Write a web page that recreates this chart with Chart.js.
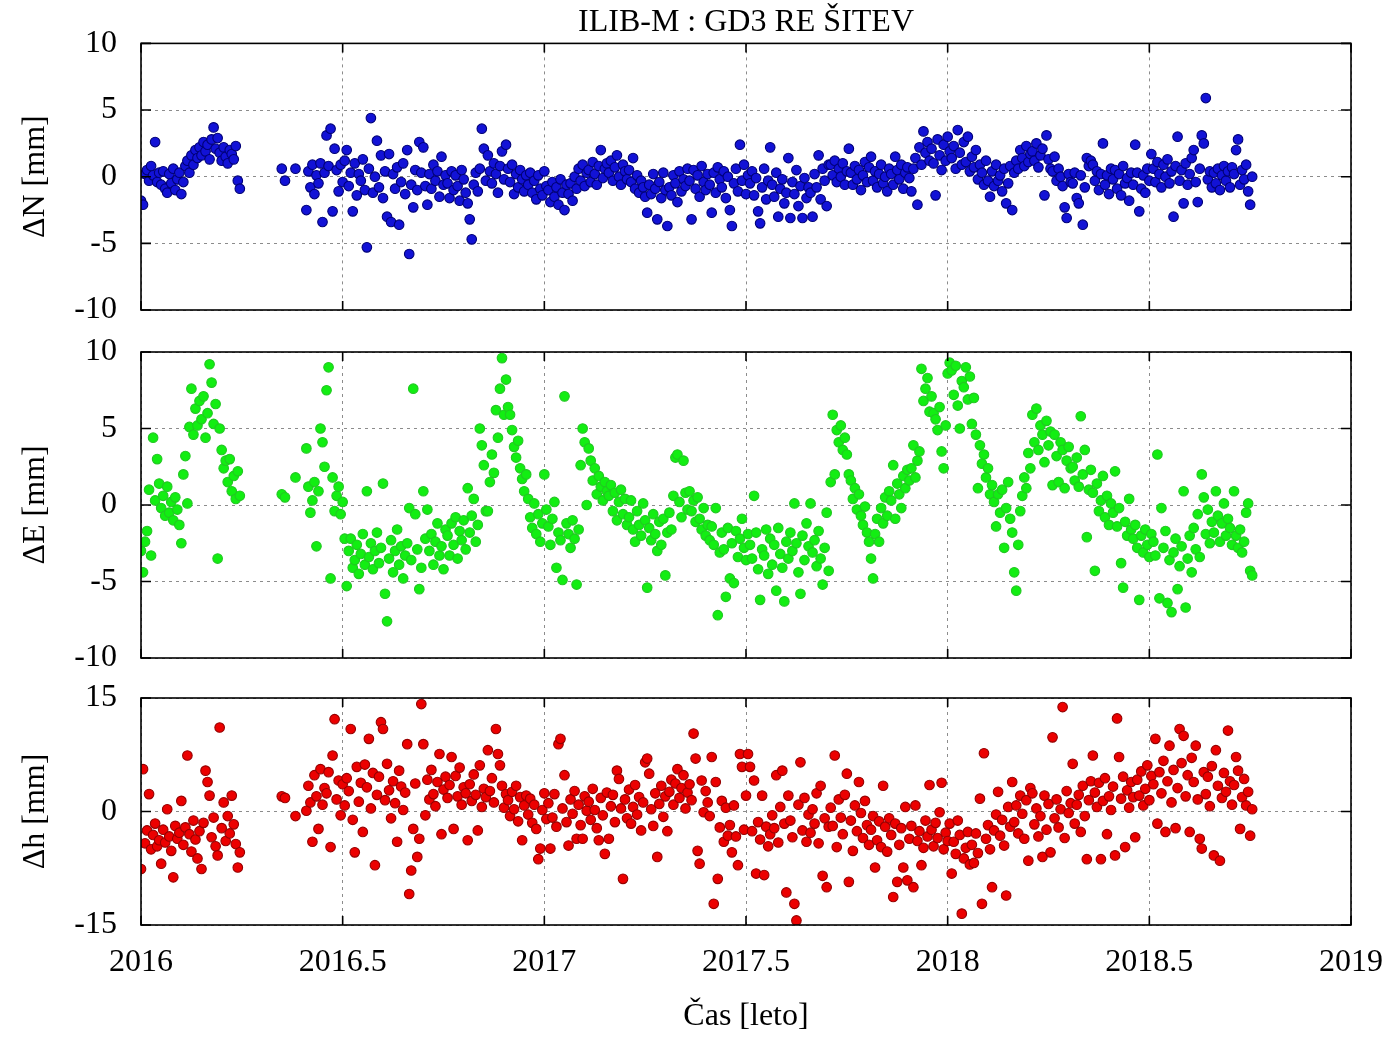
<!DOCTYPE html>
<html>
<head>
<meta charset="utf-8">
<title>ILIB-M : GD3 RE ŠITEV</title>
<script src="https://cdn.jsdelivr.net/npm/chart.js@4.4.1/dist/chart.umd.min.js"></script>
<style>
  html, body { margin: 0; padding: 0; background: #fff; }
  #wrap { position: relative; width: 1400px; height: 1038px; }
  canvas { position: absolute; left: 0; }
</style>
</head>
<body>
<div id="wrap">
  <canvas id="panelN" width="1400" height="330" style="top:0px"></canvas>
  <canvas id="panelE" width="1400" height="348" style="top:330px"></canvas>
  <canvas id="panelH" width="1400" height="360" style="top:678px"></canvas>
</div>
<script>
const SERIF = '"Liberation Serif", "Times New Roman", serif';

// epochs of the daily solutions (decimal year), in three blocks
const blockA = { from: 2016.000, count: 50 };   // start of 2016, before the gap
const blockB = [2016.349, 2016.357, 2016.383];  // few solutions inside the gap
const blockC = { from: 2016.410, count: 470 };  // rest of the series
const step = 0.005;

const xTicks = [2016, 2016.5, 2017, 2017.5, 2018, 2018.5, 2019];
const nTicks = [-10, -5, 0, 5, 10];
const eTicks = [-10, -5, 0, 5, 10];
const hTicks = [-15, 0, 15];

// North residuals [mm]
const dN = [
  -1.8, -2.1, 0.2, 0.5, -0.3, 0.8, 0.1, 2.6, -0.4, 0.3,
  -0.6, 0.4, -0.9, -1.2, 0.2, -0.5, 0.6, -1.0, -0.2, 0.3,
  -1.3, -0.4, 0.8, 1.2, 0.3, 1.6, 0.9, 2.0, 1.4, 2.2,
  1.6, 2.6, 1.9, 2.4, 1.3, 2.8, 3.7, 2.1, 2.9, 1.8,
  1.2, 2.2, 1.5, 1.0, 2.0, 1.7, 1.3, 2.3, -0.3, -0.9,
  0.6, -0.3, 0.6,
  -2.5, 0.4, -0.8, 0.9, -1.3, 0.1, -0.5, 1.0, -3.4, 0.3,
  3.1, 0.8, 3.6, -2.6, 2.1, 0.5, -1.1, 0.9, -0.4, 1.2,
  2.0, -0.7, 0.3, -2.6, 1.0, -1.4, 0.2, -0.3, 1.3, -1.0,
  -5.3, 0.6, 4.4, -1.2, 0.0, 2.7, -0.8, 1.6, -1.6, 0.4,
  -3.0, 1.7, -3.4, 0.2, -0.9, 0.7, -3.6, -0.4, 1.0, -1.3,
  2.0, -5.8, -0.6, -2.3, 0.5, -1.0, 2.6, 0.3, 2.2, -0.7,
  -2.1, 0.2, -0.9, 0.9, -0.3, 0.4, -1.5, 1.5, -0.6, 0.1,
  -0.5, -1.6, 0.4, -1.0, 0.1, -0.7, -1.8, 0.5, -0.2, -1.2,
  -2.0, -3.2, -4.7, -0.6, 0.3, -1.1, 0.6, 3.6, 2.1, -0.3,
  1.6, 0.4, -0.5, 1.0, 0.2, -1.2, 0.8, 1.9, -0.2, 2.4,
  0.6, -0.4, 0.9, -1.3, 0.2, -0.8, 0.5, -0.2, -1.1, 0.1,
  -0.6, 0.3, -1.2, -0.3, -1.7, 0.1, -0.9, -1.4, 0.4, -0.7,
  -1.0, -1.9, -0.4, -1.5, -0.8, -2.1, -0.2, -1.2, -2.5, -0.6,
  -1.3, -0.5, -1.8, 0.0, -0.9, 0.6, -0.3, 0.9, -0.7, 0.3,
  0.5, -0.4, 1.1, 0.2, -0.6, 0.8, 2.0, -0.1, 0.6, 1.0,
  0.3, 1.2, -0.3, 0.7, 1.6, 0.0, -0.6, 0.9, 0.4, -0.2,
  0.5, -0.4, 1.4, -0.9, 0.1, -1.2, -0.3, -0.8, -1.5, -2.7,
  -0.6, -1.3, 0.2, -0.9, -3.2, -0.4, -1.6, 0.3, -1.0, -3.7,
  -0.8, -1.4, 0.1, -0.5, -1.9, 0.4, -1.1, -0.2, -0.7, 0.6,
  -0.3, -3.2, 0.5, -0.9, 0.1, -1.5, 0.8, -0.4, -1.0, 0.2,
  -0.6, -2.7, 0.3, -1.2, 0.7, -0.2, -0.8, 0.4, -1.6, 0.0,
  -2.5, -3.7, -0.5, 0.6, -1.1, 2.4, -0.3, 0.9, -1.3, 0.1,
  -0.5, 0.4, -1.4, -0.1, -2.6, -3.5, -0.8, 0.6, -1.7, -0.3,
  2.2, -0.6, -1.5, 0.3, -3.0, -0.9, -0.2, -2.0, -1.2, 1.4,
  -3.1, -0.4, -1.3, 0.5, -2.2, -0.7, -3.1, -0.1, -1.6, -0.8,
  -1.2, -3.0, 0.2, -0.8, 1.6, -1.7, 0.6, -0.3, -2.2, 0.9,
  0.9, 0.1, 1.2, -0.4, 0.6, 0.0, 1.0, -0.6, 0.4, 2.1,
  0.3, -0.6, 0.8, -0.2, 0.5, -1.0, 0.1, 1.1, -0.4, 0.7,
  1.5, -0.3, 0.4, -0.8, 0.2, 0.9, -0.5, 0.0, -1.1, 0.6,
  0.2, -0.6, 1.5, 0.5, -0.2, 0.9, -0.9, 0.3, 0.7, -0.1,
  -1.1, 0.6, 1.4, -2.1, 2.2, 0.9, 3.4, 1.8, 2.6, 1.2,
  2.1, 1.0, -1.4, 2.8, 1.6, 0.5, 2.4, 1.2, 3.0, 1.9,
  1.4, 2.3, 0.6, 3.5, 1.8, 0.9, 2.6, 1.1, 3.0, 0.4,
  1.5, 0.7, 2.0, -0.2, 0.9, 0.3, -0.6, 1.2, -0.3, -1.5,
  0.4, -0.7, 0.9, -0.3, 0.1, -1.1, 0.6, -2.0, -0.5, 0.8,
  -2.5, 0.3, 1.2, 0.6, 2.0, 1.4, 0.8, 2.3, 1.1, 1.7,
  1.9, 1.2, 2.5, 0.7, 1.6, 2.1, -1.4, 3.1, 1.3, 0.6,
  0.4, 1.5, -0.3, 0.6, 0.0, -0.7, -2.3, -3.1, 0.2, -0.4,
  -0.5, 0.3, -1.6, -2.0, 0.1, -3.6, -0.8, 1.4, 0.8, 1.2,
  0.9, -0.3, 0.4, -1.0, 0.2, 2.5, -0.6, 0.1, -1.3, 0.6,
  -0.2, 0.5, -0.9, 0.2, -1.4, 0.8, -0.5, -0.1, -1.8, 0.3,
  -0.6, 2.4, 0.3, -2.6, -0.9, 0.1, -1.2, 0.6, -0.3, 1.7,
  0.6, -0.4, 1.1, 0.2, -0.8, 0.9, 0.0, 1.3, -0.5, 0.4,
  -3.0, 0.8, 3.0, -0.3, 0.5, -2.0, 1.0, -0.6, 0.2, 1.4,
  2.0, -0.4, -1.9, 0.6, 3.1, 2.5, 5.9, -0.2, 0.4, -0.8,
  0.3, -0.5, 0.6, -1.0, 0.1, 0.8, -0.3, 0.4, -0.8, 0.7,
  0.2, 2.0, 2.8, -0.6, 0.5, -0.2, 0.9, -1.1, -2.1, 0.0
];

// East residuals [mm]
const dE = [
  -3.0, -4.4, -2.4, -1.7, 1.0, -3.3, 4.4, 0.3, 3.0, 1.4,
  -0.2, 0.6, -0.7, 1.2, -0.5, 0.2, -1.0, 0.5, -0.3, -1.3,
  -2.5, 2.0, 3.2, 0.1, 5.1, 7.6, 4.6, 6.3, 5.2, 6.8,
  5.6, 7.1, 4.4, 6.0, 9.2, 8.0, 5.3, 6.6, -3.5, 5.0,
  3.6, 2.4, 2.9, 1.5, 3.0, 0.9, 1.9, 0.4, 2.2, 0.6,
  0.7, 0.5, 1.8,
  3.7, 1.2, -0.5, 0.3, 1.5, -2.7, 0.9, 5.0, 4.1, 2.5,
  7.5, 9.0, -4.8, 1.8, -0.4, 0.6, 1.2, -0.6, 0.2, -2.2,
  -5.3, -3.0, -2.2, -4.1, -3.6, -2.6, -4.5, -3.2, -1.9, -3.9,
  0.9, -3.4, -2.5, -4.2, -3.0, -1.8, -3.8, -2.8, 1.4, -5.8,
  -7.6, -3.5, -2.3, -4.4, -3.0, -1.6, -3.9, -2.7, -4.8, -3.3,
  -2.5, -0.2, -3.6, 7.6, -0.6, -2.9, -5.5, -4.1, 0.9, -2.2,
  -0.3, -3.0, -1.9, -3.9, -2.4, -1.2, -3.3, -2.7, -4.2, -1.6,
  -2.0, -3.3, -1.2, -2.6, -0.8, -3.5, -1.7, -2.3, -1.0, -2.9,
  1.1, -1.8, -0.7, 0.4, -2.4, -1.3, 5.0, 3.9, 2.6, -0.4,
  -0.4, 1.5, 3.3, 2.1, 6.2, 4.4, 7.6, 9.6, 5.9, 8.2,
  6.4, 5.9, 4.9, 3.8, 3.1, 4.2, 2.4, 1.7, 0.9, 2.0,
  0.4, -0.8, -1.5, 0.1, -1.9, -0.6, -2.4, -1.2, 2.0, -0.3,
  -1.4, -2.6, -0.9, 0.2, -4.1, -1.8, -2.3, -4.9, 7.1, -1.2,
  -1.9, -2.8, -1.0, -2.2, -5.2, -1.6, 2.6, 5.0, 4.1, 0.0,
  3.7, 2.9, 1.6, 2.4, 0.7, 1.9, 1.2, 0.3, 1.5, 0.9,
  0.6, 1.3, -0.4, 0.8, -1.0, 0.2, 1.0, -0.6, 0.4, -1.3,
  -0.8, 0.3, -1.6, -2.4, -0.4, -1.3, -2.0, 0.1, -1.0, -5.4,
  -1.5, -2.3, -0.6, -1.9, -3.0, -1.1, -2.6, -0.9, -4.6, -1.8,
  -0.5, -1.6, 0.6, 3.1, 3.3, 0.2, -0.8, 2.9, 0.8, -0.3,
  0.9, -0.4, 0.3, -1.1, 0.5, -0.9, -1.6, -0.2, -2.0, -1.3,
  -2.3, -1.4, -2.6, -0.2, -7.2, -3.1, -1.8, -2.9, -6.0, -1.5,
  -4.8, -2.5, -5.1, -1.7, -3.4, -2.2, -0.9, -2.8, -3.6, -1.9,
  -2.6, -3.5, 0.6, -1.8, -4.2, -6.2, -2.9, -3.3, -1.6, -4.5,
  -2.2, -3.9, -2.6, -5.6, -1.5, -3.2, -4.1, -6.3, -2.4, -3.5,
  -1.8, -3.0, 0.1, -2.5, -4.4, -5.8, -2.0, -3.6, -1.2, -2.7,
  0.1, -3.1, -2.3, -4.0, -1.7, -3.5, -5.2, -2.8, -0.5, -4.3,
  1.5, 5.9, 2.0, 4.9, 4.1, 5.2, 3.6, 4.4, 3.3, 2.0,
  1.6, 0.4, 1.1, -0.3, 0.7, -0.7, -1.3, -0.1, -1.8, -2.4,
  -3.5, -4.8, -1.9, -0.9, -2.4, -0.2, -1.2, 0.5, -0.7, 0.9,
  0.3, 2.6, -0.9, 1.4, 0.7, -0.2, 1.9, 1.1, 2.3, 1.6,
  2.4, 3.9, 1.8, 2.9, 3.5, 8.9, 6.8, 7.6, 8.3, 6.1,
  7.1, 6.0, 5.6, 4.9, 6.4, 3.5, 2.4, 5.2, 8.6, 9.3,
  8.8, 7.2, 9.1, 6.5, 5.0, 8.1, 7.7, 9.0, 6.9, 8.4,
  5.3, 7.0, 4.6, 1.1, 3.9, 2.7, 3.3, 1.8, 2.4, 0.7,
  1.3, 0.2, -1.4, 0.7, -0.5, 1.0, -2.8, -0.2, 1.5, -0.9,
  -1.8, -4.4, -5.6, -2.6, -0.4, 0.6, 1.8, 1.1, 3.4, 2.4,
  5.9, 4.1, 6.3, 3.6, 5.2, 4.6, 2.8, 5.5, 3.9, 4.8,
  1.3, 4.6, 3.2, 1.5, 4.1, 3.6, 1.1, 2.9, 3.8, 2.4,
  2.5, 1.6, 3.1, 1.2, 5.8, 2.0, 3.6, -2.1, 1.0, 2.3,
  0.8, -4.3, 1.4, -0.4, 0.3, 1.9, -0.8, 0.6, -1.3, 0.1,
  -0.5, 2.2, -1.4, -0.2, -3.8, -5.4, -1.1, -2.0, 0.4, -1.6,
  -2.2, -1.3, -2.8, -6.2, -2.0, -3.1, -1.6, -2.6, -3.4, -1.9,
  -2.4, -3.3, 3.3, -6.1, -0.2, -2.8, -1.7, -6.4, -3.6, -7.0,
  -3.1, -2.2, -5.5, -4.0, -2.7, 0.9, -6.7, -3.5, -2.0, -4.4,
  -1.5, -2.9, -0.6, -3.4, 2.0, 0.5, -1.9, -0.3, -2.5, -1.1,
  -1.8, 0.9, -0.7, -2.4, -1.2, 0.1, -2.0, -0.9, -1.5, -2.6,
  0.9, -2.0, -2.8, -1.6, -3.1, -2.4, -0.5, 0.1, -4.3, -4.6
];

// Up residuals [mm]
const dH = [
  -7.6, 5.6, -4.2, -2.5, 2.3, -5.0, -3.1, -1.6, -4.6, -3.8,
  -6.9, -2.4, -4.1, 0.3, -3.3, -5.2, -8.7, -1.9, -3.6, -2.8,
  1.4, -4.4, -2.1, 7.4, -3.0, -5.3, -1.2, -3.7, -6.2, -2.6,
  -7.6, -1.5, 5.4, 3.9, 2.1, -3.4, -0.8, -4.6, -5.8, 11.1,
  -2.2, 1.2, -3.9, -0.6, -2.9, 2.1, -1.7, -4.3, -7.4, -5.4,
  2.0, 1.8, -0.6,
  0.1, 3.4, 1.2, -4.0, 4.8, 2.0, -2.3, 5.6, 0.9, 3.1,
  2.4, 5.2, -4.7, 7.4, 12.2, 1.6, 4.1, -0.5, 3.6, 0.8,
  4.4, 2.7, 10.9, -1.1, -5.4, 5.9, 1.3, 3.8, -2.7, 6.2,
  3.2, 9.6, 0.4, 5.1, -7.1, 2.2, 4.6, 11.8, 10.9, 1.5,
  6.3, 2.8, -0.9, 4.0, 1.1, -4.0, 5.4, 3.3, 0.2, 2.5,
  8.9, -10.9, -7.8, -2.3, 3.7, -6.0, -3.6, 14.2, 8.9, -0.5,
  4.2, 1.6, 5.5, 2.3, 0.7, 3.9, 7.6, -3.0, 2.9, 4.6,
  1.8, 3.5, 7.2, -2.3, 4.7, 2.0, 5.8, 0.9, 3.2, 2.4,
  -3.8, 3.6, 1.4, 4.9, 2.2, -2.5, 6.1, 0.6, 3.0, 1.9,
  8.1, 2.7, 4.4, 1.2, 10.9, 7.6, 6.1, 3.4, 0.5, 2.3,
  1.5, -0.6, 2.6, 0.3, 3.4, -1.3, 1.9, -3.8, 0.8, 2.1,
  -0.4, 1.7, -1.5, 0.9, -2.3, -6.3, -4.9, 0.2, 2.4, -1.0,
  1.1, -4.9, -0.8, 2.3, -2.0, 8.9, 9.6, 0.4, 4.8, -1.4,
  -4.5, 1.6, -0.3, 2.7, -3.6, 0.9, -1.8, -3.6, 2.0, 0.1,
  1.3, -1.1, 3.0, 0.2, -2.2, -3.8, 1.8, -0.5, -5.6, 2.5,
  -3.6, 0.7, 2.2, -1.4, 5.4, 4.3, 0.4, -8.9, 1.6, -0.9,
  2.9, -1.6, 0.6, 3.5, -0.4, 1.9, -2.5, 1.2, 6.5, 7.0,
  5.0, 0.3, -1.9, 2.4, -6.0, 1.0, 3.4, -0.7, 2.0, -2.6,
  2.6, 4.2, 0.9, 3.7, 5.6, 1.8, 3.1, 4.8, 0.4, 2.5,
  3.6, 1.5, 10.3, 7.0, -5.2, -6.9, 4.1, -0.1, 2.7, 1.2,
  -0.6, 7.2, -12.2, 3.9, -8.9, -2.1, 1.4, -4.0, 0.5, -3.2,
  -1.8, -5.4, 0.8, -3.3, -7.1, 7.6, 5.9, -2.4, 2.1, 7.6,
  5.9, -2.6, 4.1, -8.2, -1.4, -3.7, 2.1, -8.4, -2.0, -4.6,
  -3.0, -0.5, -2.2, 4.8, -4.1, 0.6, 5.4, -1.6, -10.7, 2.1,
  -1.2, -3.4, -12.2, -14.4, 0.9, 6.5, -2.5, 1.8, -4.0, -0.4,
  -2.8, 0.3, -1.6, 2.4, -4.2, 3.4, -8.5, -0.9, -10.0, -2.0,
  0.5, -1.9, 7.4, -4.7, 1.6, -0.8, -3.0, 2.2, 5.0, -9.3,
  -1.2, -5.2, 0.8, -2.6, 3.9, -0.2, -3.5, 1.4, -1.8, -4.4,
  -2.4, -0.6, -7.4, -3.8, -1.3, -4.7, 3.4, -2.0, -5.3, -0.9,
  -3.1, -11.3, -1.6, -9.3, -4.4, -2.2, -7.4, 0.6, -9.1, -3.6,
  -1.9, -10.0, 0.8, -3.9, -2.6, -7.1, -4.8, -1.2, -3.3, 3.5,
  -2.4, -4.6, -1.5, -3.5, -0.1, 3.8, -5.0, -2.8, -3.9, -1.6,
  -8.2, -4.0, -5.6, -1.2, -3.1, -13.5, -6.2, -4.8, -2.7, -7.0,
  -4.4, -6.8, -2.9, -5.5, 1.7, -12.2, 7.7, -3.6, -1.8, -5.0,
  -10.0, -2.5, -0.4, 2.6, -3.2, -1.1, -4.5, -11.1, 0.6, -2.0,
  3.9, -1.4, 0.8, -2.9, 2.1, -0.3, -3.6, 1.5, -6.5, 3.1,
  2.4, -1.7, 0.4, -3.3, -0.6, -6.0, 2.1, -2.4, 1.0, -5.4,
  9.8, -0.9, 1.6, -2.1, 0.3, 13.8, -3.5, 2.7, -0.2, 1.1,
  6.3, -1.6, 0.9, 2.2, -2.7, 3.4, -0.6, -6.3, 1.5, 4.0,
  7.4, 2.5, 0.6, 3.8, -6.3, 1.4, 4.4, -3.0, 2.0, 0.2,
  3.3, -5.8, 12.3, 7.2, 1.7, 4.6, -4.7, 2.8, 0.5, 3.9,
  1.9, -3.4, 4.2, 2.1, 5.3, 0.8, 3.0, 6.1, 1.5, 4.7,
  3.6, 9.6, -1.6, 5.2, 2.4, 6.7, -2.7, 4.0, 8.7, 1.2,
  5.5, -2.2, 3.1, 10.9, 6.4, 10.0, 2.0, 4.8, -2.7, 7.1,
  3.9, 8.7, 1.6, -3.6, -4.9, 5.2, 2.3, 4.6, 0.7, 6.0,
  -5.8, 8.1, 3.4, -6.5, 1.8, 5.1, 2.6, 10.7, 4.0, 0.9,
  3.5, 7.2, 5.4, -2.3, 1.9, 4.3, 0.8, 2.6, -3.2, 0.3
];

function buildEpochs() {
  const out = [];
  for (let i = 0; i < blockA.count; i++) out.push(+(blockA.from + i * step).toFixed(3));
  blockB.forEach(t => out.push(t));
  for (let i = 0; i < blockC.count; i++) out.push(+(blockC.from + i * step).toFixed(3));
  return out;
}

const epochs = buildEpochs();

// black frame + inward tick marks, like the original plot
const framePlugin = {
  id: 'frame',
  afterDatasetsDraw(chart) {
    const { ctx, chartArea: a, scales: { x, y } } = chart;
    ctx.save();
    ctx.strokeStyle = '#000';
    ctx.lineWidth = 1.6;
    ctx.beginPath();
    x.ticks.forEach(t => {
      const px = x.getPixelForValue(t.value);
      ctx.moveTo(px, a.top); ctx.lineTo(px, a.top + 9);
      ctx.moveTo(px, a.bottom); ctx.lineTo(px, a.bottom - 9);
    });
    y.ticks.forEach(t => {
      const py = y.getPixelForValue(t.value);
      ctx.moveTo(a.left, py); ctx.lineTo(a.left + 10, py);
      ctx.moveTo(a.right, py); ctx.lineTo(a.right - 10, py);
    });
    ctx.stroke();
    ctx.strokeRect(a.left, a.top, a.right - a.left, a.bottom - a.top);
    ctx.restore();
  }
};

// the plot frames are placed by hand, so drop the label overhang padding
function noOverhang(s) {
  s.paddingTop = 0;
  s.paddingBottom = 0;
  s.paddingLeft = 0;
  s.paddingRight = 0;
}

function makePanel(id, values, fill, edge, yLabel, yTicks, opt) {
  const points = epochs.map((t, i) => ({ x: t, y: values[i] }));
  const ctx = document.getElementById(id).getContext('2d');
  return new Chart(ctx, {
    type: 'scatter',
    data: {
      datasets: [{
        data: points,
        backgroundColor: fill,
        borderColor: edge,
        pointStyle: 'circle',
        pointRadius: 4.8,
        pointBorderWidth: 1.1,
        pointHoverRadius: 4.8
      }]
    },
    options: {
      responsive: false,
      animation: false,
      devicePixelRatio: 1,
      layout: { padding: { top: opt.padTop, right: 49, bottom: 0, left: 0 } },
      plugins: {
        legend: { display: false },
        tooltip: { enabled: false },
        title: opt.title ? {
          display: true,
          text: opt.title,
          fullSize: false,
          color: '#000',
          font: { family: SERIF, size: 32, weight: 'normal' },
          padding: { top: 3, bottom: 2 }
        } : { display: false }
      },
      scales: {
        x: {
          type: 'linear',
          min: 2016,
          max: 2019,
          afterBuildTicks: s => { s.ticks = xTicks.map(v => ({ value: v })); },
          afterFit: s => { s.height = opt.xHeight; noOverhang(s); },
          grid: { color: '#8c8c8c', lineWidth: 1, drawTicks: false },
          border: { display: false, dash: [3, 4] },
          ticks: {
            display: opt.showX,
            color: '#000',
            padding: 18,
            maxRotation: 0,
            font: { family: SERIF, size: 32 },
            callback: v => String(v)
          },
          title: {
            display: opt.showX,
            text: 'Čas [leto]',
            color: '#000',
            font: { family: SERIF, size: 32 },
            padding: { top: 0, bottom: 2 }
          }
        },
        y: {
          min: yTicks[0],
          max: yTicks[yTicks.length - 1],
          afterBuildTicks: s => { s.ticks = yTicks.map(v => ({ value: v })); },
          afterFit: s => { s.width = 141; noOverhang(s); },
          grid: { color: '#8c8c8c', lineWidth: 1, drawTicks: false },
          border: { display: false, dash: [3, 4] },
          ticks: {
            color: '#000',
            padding: 24,
            font: { family: SERIF, size: 32 },
            callback: v => String(v)
          },
          title: {
            display: true,
            text: yLabel,
            color: '#000',
            font: { family: SERIF, size: 32 },
            padding: { top: 16, bottom: 0 }
          }
        }
      }
    },
    plugins: [framePlugin]
  });
}

makePanel('panelN', dN, '#1212d6', '#000078', 'ΔN [mm]', nTicks,
  { padTop: 0, xHeight: 20, showX: false, title: 'ILIB-M : GD3 RE ŠITEV' });
makePanel('panelE', dE, '#12ee12', '#22c822', 'ΔE [mm]', eTicks,
  { padTop: 22, xHeight: 20, showX: false });
makePanel('panelH', dH, '#ec0000', '#960000', 'Δh [mm]', hTicks,
  { padTop: 20, xHeight: 113, showX: true });
</script>
</body>
</html>
